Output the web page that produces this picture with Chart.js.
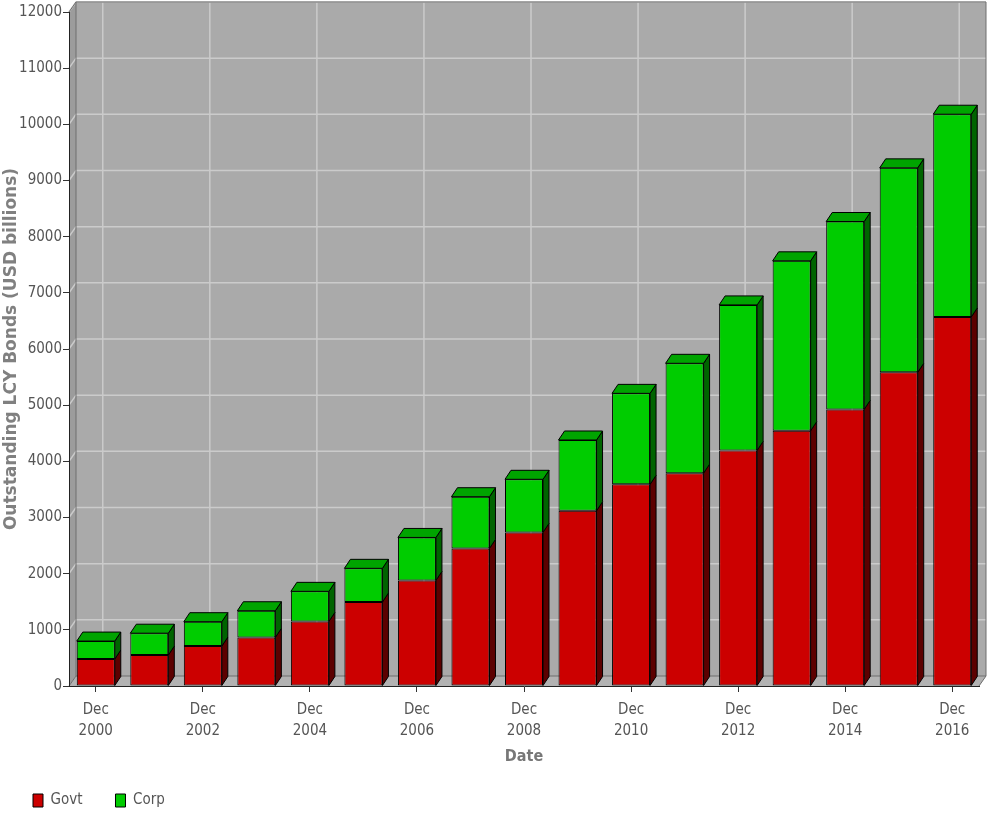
<!DOCTYPE html>
<html>
<head>
<meta charset="utf-8">
<title>Outstanding LCY Bonds</title>
<script src="https://cdn.jsdelivr.net/npm/chart.js@4.4.1/dist/chart.umd.min.js"></script>
<style>
  html, body { margin: 0; padding: 0; background: #fff; }
  #wrap { width: 993px; height: 817px; }
</style>
</head>
<body>
<div id="wrap"><canvas id="bondChart" width="993" height="817"></canvas></div>
<script>
/*----------------------------- data -------------------------------------------------*/
const years = ['2000', '2001', '2002', '2003', '2004', '2005', '2006', '2007', '2008',
               '2009', '2010', '2011', '2012', '2013', '2014', '2015', '2016'];
const govt = [480, 550, 710, 865, 1150, 1495, 1880, 2450, 2735, 3120, 3590, 3790, 4195, 4545, 4925, 5585, 6570];
const corp = [320, 390, 435, 475, 535, 600, 765, 920, 945, 1260, 1620, 1955, 2590, 3025, 3345, 3640, 3610];
const yMax = 12000;
const yStep = 1000;

const NARROW = "'DejaVu Sans Condensed', 'Liberation Sans', sans-serif";
const WALL = { dx: 7, dy: 10 };   // depth of the back wall
const BAR3D = { dx: 6, dy: 9 };   // depth of each bar

function poly(ctx, pts) {
    ctx.beginPath();
    ctx.moveTo(pts[0][0], pts[0][1]);
    for (let i = 1; i < pts.length; i++) ctx.lineTo(pts[i][0], pts[i][1]);
    ctx.closePath();
}

/*----------------------------- 3d walls + grid ---------------------------------------*/
const walls3d = {
    id: 'walls3d',
    beforeDraw(chart) {
        const { ctx, chartArea: a, scales: { x, y } } = chart;
        const dx = WALL.dx, dy = WALL.dy;
        ctx.save();
        // back wall
        ctx.fillStyle = '#aaaaaa';
        ctx.fillRect(a.left + dx, a.top - dy, a.right - a.left, a.bottom - a.top);
        // left wall
        ctx.fillStyle = '#9c9c9c';
        poly(ctx, [[a.left, a.top], [a.left + dx, a.top - dy], [a.left + dx, a.bottom - dy], [a.left, a.bottom]]);
        ctx.fill();
        // floor
        ctx.fillStyle = '#b2b2b2';
        poly(ctx, [[a.left, a.bottom], [a.left + dx, a.bottom - dy], [a.right + dx, a.bottom - dy], [a.right, a.bottom]]);
        ctx.fill();

        // grid lines on the walls
        ctx.strokeStyle = '#cbcbcb';
        ctx.lineWidth = 1.5;
        y.ticks.forEach(t => {
            if (t.value === 0) return;
            const py = y.getPixelForValue(t.value);
            ctx.beginPath();
            ctx.moveTo(a.left, py);
            ctx.lineTo(a.left + dx, py - dy);
            ctx.lineTo(a.right + dx, py - dy);
            ctx.stroke();
        });
        years.forEach((yr, i) => {
            if (i % 2) return;
            const px = x.getPixelForValue(i) + dx;
            ctx.beginPath();
            ctx.moveTo(px, a.top - dy);
            ctx.lineTo(px, a.bottom - dy);
            ctx.stroke();
        });

        // wall edges
        ctx.strokeStyle = '#6e6e6e';
        ctx.lineWidth = 1;
        ctx.beginPath();
        ctx.moveTo(a.left, a.top);
        ctx.lineTo(a.left + dx, a.top - dy);
        ctx.lineTo(a.right + dx, a.top - dy);
        ctx.lineTo(a.right + dx, a.bottom - dy);
        ctx.lineTo(a.right, a.bottom);
        ctx.moveTo(a.left + dx, a.top - dy);
        ctx.lineTo(a.left + dx, a.bottom - dy);
        ctx.lineTo(a.right + dx, a.bottom - dy);
        ctx.moveTo(a.left, a.bottom);
        ctx.lineTo(a.left + dx, a.bottom - dy);
        ctx.stroke();
        ctx.restore();
    }
};

/*----------------------------- 3d bar faces ------------------------------------------*/
const bars3d = {
    id: 'bars3d',
    afterDatasetsDraw(chart) {
        const ctx = chart.ctx;
        const { dx, dy } = BAR3D;
        const last = chart.data.datasets.length - 1;
        ctx.save();
        ctx.strokeStyle = '#000';
        ctx.lineWidth = 1;
        chart.data.datasets.forEach((ds, di) => {
            chart.getDatasetMeta(di).data.forEach(bar => {
                const { x, y, base, width } = bar.getProps(['x', 'y', 'base', 'width'], true);
                const l = x - width / 2, r = x + width / 2;
                ctx.fillStyle = ds.sideColor;
                poly(ctx, [[r, y], [r + dx, y - dy], [r + dx, base - dy], [r, base]]);
                ctx.fill();
                ctx.stroke();
                if (di === last) {
                    ctx.fillStyle = ds.topColor;
                    poly(ctx, [[l, y], [l + dx, y - dy], [r + dx, y - dy], [r, y]]);
                    ctx.fill();
                    ctx.stroke();
                }
            });
        });
        ctx.restore();
    }
};

/*----------------------------- chart -------------------------------------------------*/
const tickFont = { family: NARROW, size: 15, lineHeight: 1.4 };

new Chart(document.getElementById('bondChart').getContext('2d'), {
    type: 'bar',
    data: {
        labels: years,
        datasets: [{
            label: 'Govt',
            data: govt,
            backgroundColor: '#cc0000',
            sideColor: '#5c0000',
            topColor: '#a80000',
            borderColor: '#000',
            borderWidth: 1,
            borderSkipped: false
        }, {
            label: 'Corp',
            data: corp,
            backgroundColor: '#00cc00',
            sideColor: '#006400',
            topColor: '#00a400',
            borderColor: '#000',
            borderWidth: 1,
            borderSkipped: false
        }]
    },
    options: {
        responsive: false,
        devicePixelRatio: 1,
        animation: false,
        datasets: { bar: { categoryPercentage: 1, barPercentage: 0.71 } },
        layout: { padding: { left: 0, right: 14, top: 12, bottom: 0 } },
        plugins: {
            legend: {
                position: 'bottom',
                align: 'start',
                maxHeight: 57,
                labels: {
                    boxWidth: 10,
                    boxHeight: 13,
                    padding: 33,
                    color: '#555',
                    font: { family: NARROW, size: 15 }
                }
            },
            tooltip: { enabled: false }
        },
        scales: {
            x: {
                stacked: true,
                grid: {
                    display: true,
                    drawOnChartArea: false,
                    offset: false,
                    tickLength: 6,
                    color: c => (c.index % 2 === 0 ? '#333' : 'rgba(0,0,0,0)')
                },
                border: { display: true, color: '#222' },
                ticks: {
                    autoSkip: false,
                    maxRotation: 0,
                    padding: 8,
                    color: '#555',
                    font: tickFont,
                    callback: (v, i) => (i % 2 === 0 ? ['Dec', years[i]] : '')
                },
                title: {
                    display: true,
                    text: 'Date',
                    color: '#777',
                    font: { family: NARROW, size: 16, weight: 'bold' },
                    padding: { top: 0, bottom: -6 }
                },
                afterFit: s => { s.height = 74; }
            },
            y: {
                stacked: true,
                min: 0,
                max: yMax,
                grid: { drawOnChartArea: false, tickLength: 6, color: '#333' },
                border: { display: true, color: '#222' },
                ticks: {
                    stepSize: yStep,
                    padding: 1,
                    color: '#555',
                    font: { family: NARROW, size: 15 },
                    callback: v => String(v)
                },
                title: {
                    display: true,
                    text: 'Outstanding LCY Bonds (USD billions)',
                    color: '#808080',
                    font: { family: "'DejaVu Sans', sans-serif", size: 17, weight: 'bold' },
                    padding: { top: 1, bottom: 0 }
                },
                afterFit: s => { s.width = 69; }
            }
        }
    },
    plugins: [walls3d, bars3d]
});
</script>
</body>
</html>
